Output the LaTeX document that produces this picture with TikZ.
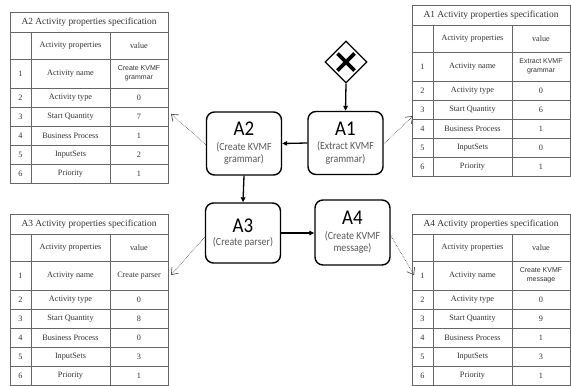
\documentclass[tikz,border=0pt]{standalone}
\usepackage{fontspec}
\setmainfont{Liberation Serif}
\newfontfamily\tabfont{Liberation Serif}
\newfontfamily\boxfont[FakeStretch=0.9]{Carlito}
\newfontfamily\valfont{Liberation Sans}
\usetikzlibrary{arrows.meta,shapes.geometric}

\tikzset{
  actbox/.style={draw=black, line width=1.4pt, rounded corners=8pt, minimum width=75pt,
    minimum height=63pt, align=center, inner sep=0pt,
    font=\boxfont\fontsize{11}{12.5}\selectfont},
  flow/.style={-{Triangle[length=5pt,width=4.5pt]}, line width=1.3pt, black},
  note/.style={-{Straight Barb[length=6pt,width=9pt]}, densely dotted, black!75, line width=0.6pt},
  tabline/.style={draw=black!60, line width=0.7pt},
  tabtext/.style={font=\tabfont\fontsize{8.2}{9}\selectfont, text=black!80, inner sep=0pt},
  tabtitle/.style={font=\tabfont\fontsize{9.4}{10}\selectfont, text=black!80, inner sep=0pt},
  tabval/.style={font=\valfont\fontsize{7}{8.5}\selectfont, text=black!80, align=center, inner sep=0pt},
}
\newcommand\boxtitle[1]{{\fontsize{21}{21}\selectfont #1}}
\newcommand\boxsub[1]{{\color{black!65}#1}}

% #1 x, #2 y, #3 label, #4 first value, #5 start quantity, #6 business process, #7 input sets
\newcommand\acttable[7]{%
  \begin{scope}[shift={(#1,#2)}]
    \draw[tabline] (0,0) rectangle (158,171);
    \foreach \yy in {20,47,76,95,114,133,152} \draw[tabline] (0,\yy) -- (158,\yy);
    \draw[tabline] (21,20) -- (21,171);
    \draw[tabline] (100,20) -- (100,171);
    \node[tabtitle] at (79,10) {#3 Activity properties specification};
    \node[tabtext] at (60.5,33.5) {Activity properties};
    \node[tabtext] at (129,33.5) {value};
    \node[tabtext] at (10.5,61.5) {1};
    \node[tabtext] at (60.5,61.5) {Activity name};
    \node[tabval] at (129,61.5) {#4};
    \node[tabtext] at (10.5,85.5) {2};
    \node[tabtext] at (60.5,85.5) {Activity type};
    \node[tabtext] at (129,85.5) {0};
    \node[tabtext] at (10.5,104.5) {3};
    \node[tabtext] at (60.5,104.5) {Start Quantity};
    \node[tabtext] at (129,104.5) {#5};
    \node[tabtext] at (10.5,123.5) {4};
    \node[tabtext] at (60.5,123.5) {Business Process};
    \node[tabtext] at (129,123.5) {#6};
    \node[tabtext] at (10.5,142.5) {5};
    \node[tabtext] at (60.5,142.5) {InputSets};
    \node[tabtext] at (129,142.5) {#7};
    \node[tabtext] at (10.5,161.5) {6};
    \node[tabtext] at (60.5,161.5) {Priority};
    \node[tabtext] at (129,161.5) {1};
  \end{scope}}

\begin{document}
\begin{tikzpicture}[x=1pt, y=-1pt]
  \useasboundingbox[fill=white] (0,0) rectangle (571,386);

  % tables
  \acttable{10}{12}{A2}{Create KVMF\\grammar}{7}{1}{2}
  \acttable{412}{5}{A1}{Extract KVMF\\grammar}{6}{1}{0}
  \acttable{10}{214}{A3}{\tabfont\fontsize{8.2}{9}\selectfont Create parser}{8}{0}{3}
  \acttable{412}{214}{A4}{Create KVMF\\message}{9}{1}{3}

  \coordinate (t2tip) at (171,114);
  \coordinate (t1tip) at (413,116);
  \coordinate (t3tip) at (171,275);
  \coordinate (t4tip) at (414,275);

  % gateway
  \node[diamond, draw=black, line width=1.3pt, minimum width=42pt, minimum height=42pt,
        inner sep=0pt] (gw) at (346,62) {};
  \draw[line width=3.6pt] ([shift={(-8.5,-8.5)}]gw.center) -- ([shift={(8.5,8.5)}]gw.center);
  \draw[line width=3.6pt] ([shift={(-8.5,8.5)}]gw.center) -- ([shift={(8.5,-8.5)}]gw.center);

  % activities
  \node[actbox] (a1) at (345.5,143) {\boxtitle{A1}\\[2pt]\boxsub{(Extract KVMF}\\\boxsub{grammar)}};
  \node[actbox] (a2) at (244,143.5) {\boxtitle{A2}\\[2pt]\boxsub{(Create KVMF}\\\boxsub{grammar)}};
  \node[actbox, minimum height=60pt] (a3) at (243,233) {\boxtitle{A3}\\[1pt]\boxsub{(Create parser)}};
  \node[actbox, minimum height=65pt] (a4) at (352.5,232.5) {\boxtitle{A4}\\[2pt]\boxsub{(Create KVMF}\\\boxsub{message)}};

  % flow
  \draw[flow] (gw.south) -- (a1.north);
  \draw[flow] (a1.west) -- (a2.east);
  \draw[flow] (a2.south) -- (a3.north);
  \draw[flow] (a3.east) -- (a3.east -| a4.west);

  % annotations
  \draw[note] ([yshift=-1pt]a2.west) -- (t2tip);
  \draw[note] ([yshift=-1pt]a1.east) -- (t1tip);
  \draw[note] ([yshift=-4pt]a3.west) -- (t3tip);
  \draw[note] ([yshift=-3pt]a4.east) -- (t4tip);
\end{tikzpicture}
\end{document}
